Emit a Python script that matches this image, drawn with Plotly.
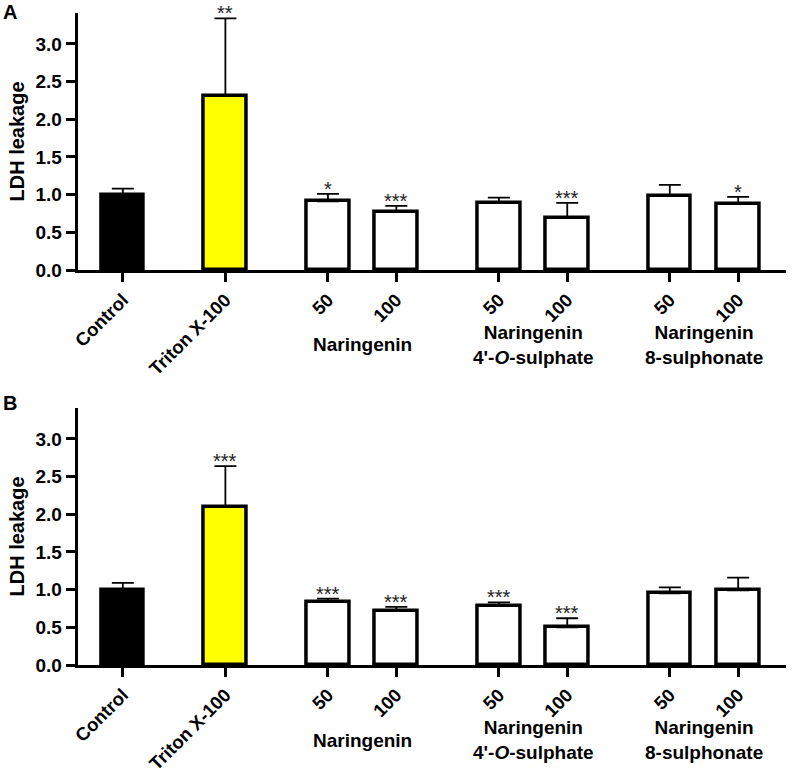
import plotly.graph_objects as go

# ---- data ----
positions = [0, 3, 6, 8, 11, 13, 16, 18]
tick_labels = ["Control", "Triton X-100", "50", "100", "50", "100", "50", "100"]
bar_colors = ["#000000", "#FFFF00", "#FFFFFF", "#FFFFFF", "#FFFFFF", "#FFFFFF", "#FFFFFF", "#FFFFFF"]

group_positions = [7, 12, 17]
group_labels = ["Naringenin", "Naringenin<br>4'-<i>O</i>-sulphate", "Naringenin<br>8-sulphonate"]

mean_a = [1.00, 2.31, 0.91, 0.77, 0.89, 0.69, 0.98, 0.88]
err_a = [0.08, 1.03, 0.10, 0.08, 0.07, 0.20, 0.15, 0.09]
sig_a = ["", "**", "*", "***", "", "***", "", "*"]

mean_b = [1.00, 2.10, 0.84, 0.72, 0.78, 0.50, 0.95, 0.99]
err_b = [0.09, 0.54, 0.04, 0.05, 0.05, 0.12, 0.08, 0.17]
sig_b = ["", "***", "***", "***", "***", "***", "", ""]

y_ticks = [0.0, 0.5, 1.0, 1.5, 2.0, 2.5, 3.0]
y_title = "LDH leakage"
panel_letters = ["A", "B"]

FONT = "Arial, Liberation Sans, sans-serif"
W, H = 796, 773

fig = go.Figure()

panels = [
    (mean_a, err_a, sig_a, "x", "y", (1 - 270 / H, 1 - 13 / H)),
    (mean_b, err_b, sig_b, "x2", "y2", (1 - 665 / H, 1 - 408 / H)),
]
xdom = (77.7 / W, 785.7 / W)

for i, (mean, err, sig, xa, ya, ydom) in enumerate(panels):
    fig.add_trace(go.Bar(
        x=positions, y=mean, width=1.25,
        marker=dict(color=bar_colors, line=dict(color="black", width=3.5)),
        error_y=dict(type="data", array=err, arrayminus=[0] * len(err), symmetric=False,
                     color="black", thickness=1.8, width=11),
        xaxis=xa, yaxis=ya, showlegend=False, hoverinfo="skip",
    ))
    for p, m, e, s in zip(positions, mean, err, sig):
        if s:
            fig.add_annotation(x=p, y=m + e, xref=xa, yref=ya, text=s, showarrow=False,
                               yanchor="bottom", yshift=-8,
                               font=dict(family=FONT, size=20, color="#222"))
    base = 345 if i == 0 else 740
    for gp, gl in zip(group_positions, group_labels):
        fig.add_annotation(x=gp, xref=xa, y=1 - base / H, yref="paper", text=gl,
                           showarrow=False, yanchor="middle",
                           font=dict(family=FONT, size=19, color="black", weight="bold"))
    ly = 12 if i == 0 else 403
    fig.add_annotation(x=10 / W, y=1 - ly / H, xref="paper", yref="paper",
                       text=panel_letters[i], showarrow=False, xanchor="center", yanchor="middle",
                       font=dict(family=FONT, size=20, color="black", weight="bold"))

axis_common_x = dict(
    range=[-1.32, 19.39], domain=list(xdom), tickmode="array", tickvals=positions,
    ticktext=tick_labels, tickangle=-45, showline=True, linecolor="black", linewidth=3,
    ticks="outside", ticklen=9, tickwidth=3, tickcolor="black", showgrid=False, zeroline=False,
    tickfont=dict(family=FONT, size=18.5, color="black", weight="bold"), automargin=False,
)
axis_common_y = dict(
    range=[0, 3.41], tickmode="array", tickvals=y_ticks,
    ticktext=[f"{v:.1f}" for v in y_ticks], showline=True, linecolor="black", linewidth=3,
    ticks="outside", ticklen=9, tickwidth=3, tickcolor="black", showgrid=False, zeroline=False,
    tickfont=dict(family=FONT, size=19, color="black", weight="bold"), automargin=False,
    title=dict(text=y_title, font=dict(family=FONT, size=20, color="black", weight="bold"),
               standoff=6),
)

fig.update_layout(
    width=W, height=H, margin=dict(l=0, r=0, t=0, b=0),
    paper_bgcolor="white", plot_bgcolor="white",
    xaxis=dict(**axis_common_x, anchor="y"),
    yaxis=dict(**axis_common_y, domain=list(panels[0][5]), anchor="x"),
    xaxis2=dict(**axis_common_x, anchor="y2"),
    yaxis2=dict(**axis_common_y, domain=list(panels[1][5]), anchor="x2"),
    bargap=0,
)

fig.write_html("out.html", config={"displayModeBar": False},
               post_script="document.body.style.margin='0';document.body.style.overflow='hidden';")
